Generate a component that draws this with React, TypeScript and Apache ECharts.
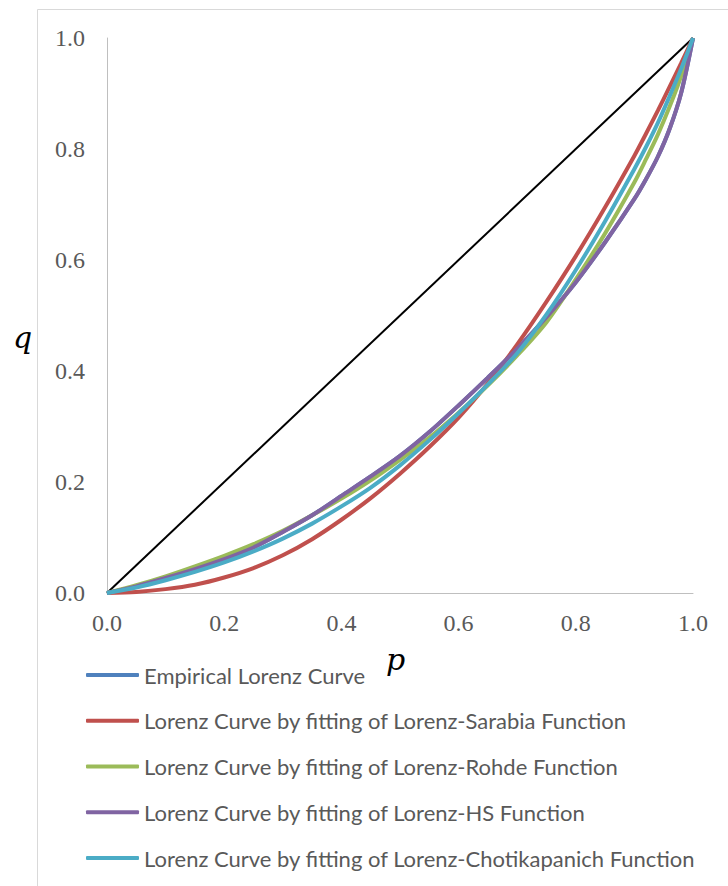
import React, { useEffect, useRef } from "react";
import * as echarts from "echarts";

const P = [0, 0.05, 0.1, 0.15, 0.2, 0.25, 0.3, 0.35, 0.4, 0.45, 0.5, 0.55, 0.6, 0.65, 0.7, 0.75, 0.8, 0.85, 0.9, 0.92, 0.94, 0.96, 0.98, 1];

const empirical = [0, 0.012, 0.027, 0.043, 0.061, 0.082, 0.11, 0.14, 0.175, 0.21, 0.247, 0.29, 0.338, 0.388, 0.44, 0.497, 0.56, 0.632, 0.71, 0.746, 0.786, 0.836, 0.902, 1];
const sarabia = [0, 0.002, 0.007, 0.015, 0.028, 0.045, 0.068, 0.097, 0.132, 0.171, 0.215, 0.263, 0.316, 0.378, 0.448, 0.525, 0.607, 0.695, 0.788, 0.828, 0.869, 0.912, 0.955, 1];
const rohde = [0, 0.014, 0.03, 0.048, 0.067, 0.088, 0.112, 0.14, 0.17, 0.203, 0.24, 0.28, 0.325, 0.374, 0.428, 0.488, 0.565, 0.648, 0.74, 0.782, 0.826, 0.876, 0.932, 1];
const hs = [0, 0.012, 0.027, 0.043, 0.061, 0.082, 0.11, 0.14, 0.175, 0.21, 0.247, 0.29, 0.338, 0.388, 0.44, 0.497, 0.56, 0.632, 0.71, 0.746, 0.786, 0.836, 0.902, 1];
const chotikapanich = [0, 0.01, 0.023, 0.038, 0.055, 0.075, 0.098, 0.125, 0.156, 0.19, 0.23, 0.275, 0.324, 0.376, 0.432, 0.502, 0.582, 0.67, 0.764, 0.804, 0.847, 0.895, 0.945, 1];
const equalityP = [0, 1];
const equalityQ = [0, 1];

const seriesNames = [
  "Empirical Lorenz Curve",
  "Lorenz Curve by fitting of Lorenz-Sarabia Function",
  "Lorenz Curve by fitting of Lorenz-Rohde Function",
  "Lorenz Curve by fitting of Lorenz-HS Function",
  "Lorenz Curve by fitting of Lorenz-Chotikapanich Function",
];
const seriesValues = [empirical, sarabia, rohde, hs, chotikapanich];
const seriesColors = ["#4F81BD", "#C0504D", "#9BBB59", "#8064A2", "#4BACC6"];

export default function App() {
  const ref = useRef<HTMLDivElement>(null);
  useEffect(() => {
    if (!ref.current) return;
    const chart = echarts.init(ref.current, null, { renderer: "svg" });
    const labelStyle = {
      color: "#595959",
      fontFamily: "Liberation Serif",
      fontSize: 24,
      formatter: (v: number) => v.toFixed(1),
    };
    const lines = seriesNames.map((name, i) => ({
      name,
      type: "line",
      data: P.map((p, j) => [p, seriesValues[i][j]]),
      smooth: 0.3,
      showSymbol: false,
      symbol: "none",
      lineStyle: { color: seriesColors[i], width: 4 },
      itemStyle: { color: seriesColors[i] },
    }));
    chart.setOption({
      animation: false,
      grid: { left: 107, top: 38, width: 586, height: 555 },
      xAxis: {
        type: "value",
        min: 0,
        max: 1,
        interval: 0.2,
        axisLine: { lineStyle: { color: "#BFBFBF", width: 1 } },
        axisTick: { show: false },
        splitLine: { show: false },
        axisLabel: { ...labelStyle, margin: 18 },
      },
      yAxis: {
        type: "value",
        min: 0,
        max: 1,
        interval: 0.2,
        axisLine: { show: true, lineStyle: { color: "#BFBFBF", width: 1 } },
        axisTick: { show: false },
        splitLine: { show: false },
        axisLabel: { ...labelStyle, margin: 22 },
      },
      legend: {
        data: seriesNames,
        orient: "vertical",
        left: 81,
        top: 658,
        icon: "roundRect",
        itemWidth: 53,
        itemHeight: 4,
        itemGap: 21.75,
        textStyle: { color: "#595959", fontFamily: "Lato", fontSize: 22, lineHeight: 24 },
      },
      graphic: [
        {
          type: "rect",
          shape: { x: 37.5, y: 9.5, width: 720, height: 900 },
          style: { fill: "none", stroke: "#D9D9D9", lineWidth: 1 },
          silent: true,
          z: -10,
        },
        {
          type: "text",
          x: 13,
          y: 337,
          style: {
            text: "q",
            font: "italic 30px 'DejaVu Serif'",
            fill: "#000000",
            verticalAlign: "middle",
            align: "left",
          },
        },
        {
          type: "text",
          x: 386,
          y: 659,
          style: {
            text: "p",
            font: "italic 30px 'DejaVu Serif'",
            fill: "#000000",
            verticalAlign: "middle",
            align: "left",
          },
        },
      ],
      series: [
        {
          name: "Equality",
          type: "line",
          data: equalityP.map((p, j) => [p, equalityQ[j]]),
          showSymbol: false,
          symbol: "none",
          lineStyle: { color: "#000000", width: 2 },
          z: 1,
        },
        ...lines,
      ],
    });
    return () => chart.dispose();
  }, []);
  return <div ref={ref} style={{ position: "fixed", left: 0, top: 0, width: 728, height: 886, background: "#ffffff" }} />;
}
